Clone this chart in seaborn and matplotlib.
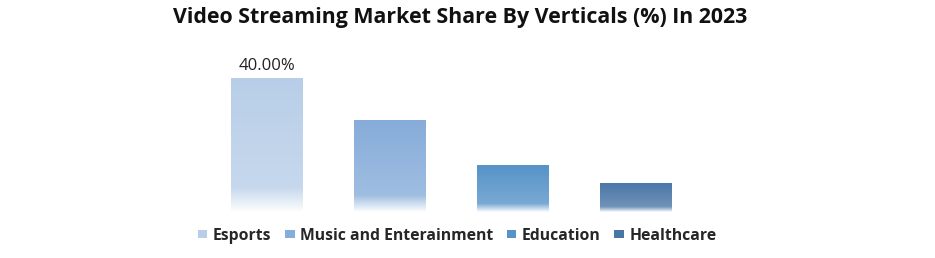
import matplotlib
matplotlib.use("Agg")
import matplotlib.pyplot as plt
import seaborn as sns
import numpy as np
import pandas as pd
from matplotlib.patches import Patch
from matplotlib.colors import to_rgb

categories = ["Esports", "Music and Enterainment", "Education", "Healthcare"]
shares = [40.0, 27.5, 14.0, 8.7]
bar_colors = ["#b8cee8", "#86acd9", "#5693c8", "#4a76a6"]
label_text = ["40.00%", "", "", ""]

sns.set_theme(style="white")
plt.rcParams['font.family'] = ['Open Sans', 'DejaVu Sans']

df = pd.DataFrame({"cat": categories, "share": shares})

fig = plt.figure(figsize=(9.35, 2.58), dpi=100)
ax = fig.add_axes([205.5/935, (258-212)/258, 492/935, 160/258])

sns.barplot(data=df, x="cat", y="share", hue="cat", palette=bar_colors,
            width=0.585, legend=False, ax=ax, saturation=1)
ax.set_xlim(-0.5, 3.5)
ax.set_ylim(0, 40 * 160 / 134)

# gradient fill
n = 200
t = np.linspace(0, 1, n)  # 0 bottom, 1 top
strength = np.clip(0.75 + 0.25 * t, 0, 1)
fade = np.clip(t / 0.18, 0, 1) ** 0.9
s = strength * fade
for patch, col in zip(ax.patches, bar_colors):
    x, y = patch.get_x(), patch.get_y()
    w, h = patch.get_width(), patch.get_height()
    c = np.array(to_rgb(col))
    img = (1 - s[:, None]) * 1.0 + s[:, None] * c[None, :]
    img = np.repeat(img[:, None, :], 2, axis=1)
    im = ax.imshow(img, extent=[x, x + w, y, y + h], origin="lower",
                   aspect="auto", zorder=2, interpolation="bilinear")
    im.set_clip_path(patch)
    patch.set_facecolor("none")
    patch.set_edgecolor("none")

for i, (v, lab) in enumerate(zip(shares, label_text)):
    if lab:
        ax.text(i, v + 1.1, lab, ha="center", va="bottom", fontsize=12,
                color="#222222")

ax.set_xlabel("")
ax.set_ylabel("")
ax.set_xticks([])
ax.set_yticks([])
for sp in ax.spines.values():
    sp.set_visible(False)

fig.suptitle("Video Streaming Market Share By Verticals (%) In 2023",
             x=460/935, y=0.972, fontsize=15.4, fontweight="bold", color="#111111",
             va="top")

handles = [Patch(facecolor=c, edgecolor="none") for c in bar_colors]
fig.legend(handles, categories, loc="center", bbox_to_anchor=(457/935, 0.087),
           ncol=4, frameon=False, handlelength=0.62, handleheight=0.5,
           handletextpad=0.35, columnspacing=0.85,
           prop={"weight": "bold", "size": 11.3})

fig.savefig("out.png", dpi=100)
